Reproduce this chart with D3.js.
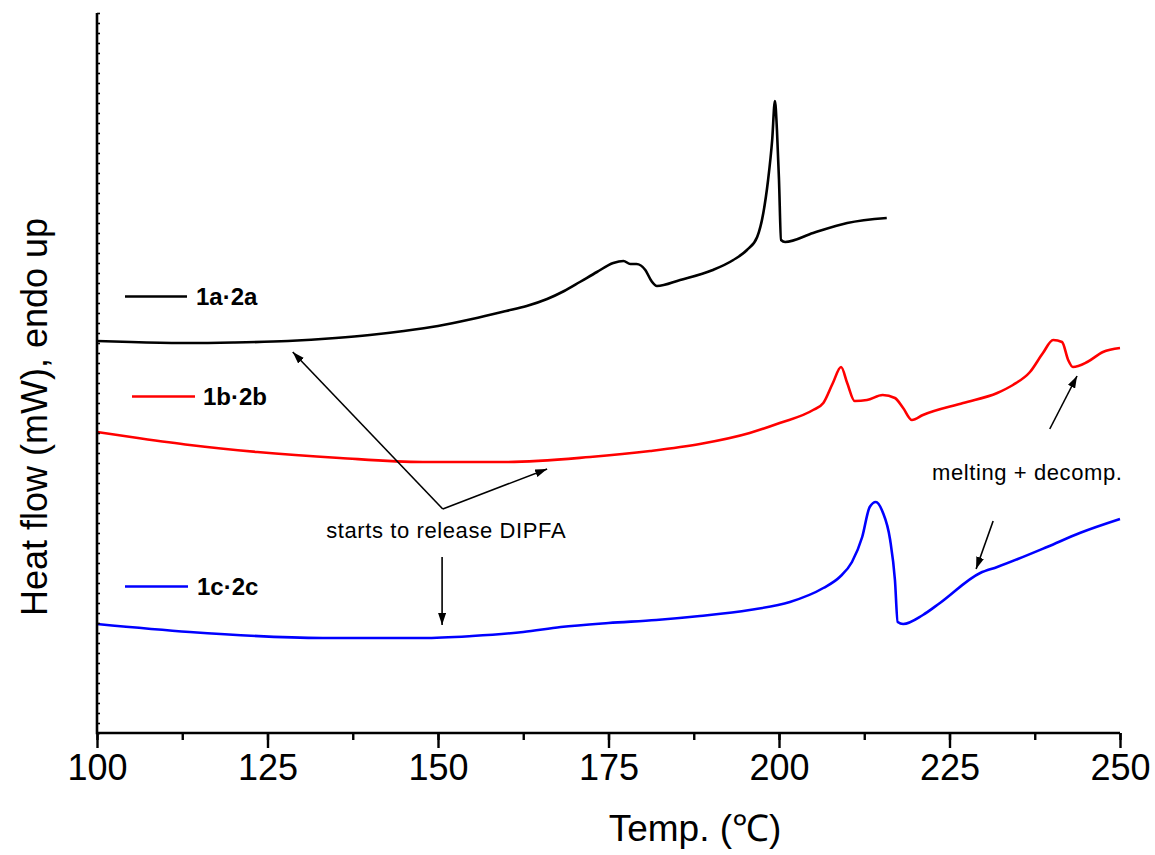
<!DOCTYPE html>
<html>
<head>
<meta charset="utf-8">
<script src="https://cdn.jsdelivr.net/npm/d3@7"></script>
<style>
  body { margin: 0; background: #fff; }
  svg { display: block; font-family: Arial, 'Liberation Sans', Helvetica, sans-serif; }
</style>
</head>
<body>
<div id="chart"></div>
<script>
// ── Data (temperature in °C, heat flow in arbitrary offset units) ──
const tempA = [100, 105, 113, 120, 128, 135, 140, 145, 150, 155, 160, 163, 166, 168.5, 170.8, 173.3, 175.7, 177.2, 178.2, 179.1, 180.4, 181.3, 182.1, 185.5, 190.3, 193.3, 195.3, 196.8, 197.7, 198.4, 199.0, 199.4, 199.7, 200.0, 200.3, 200.9, 205.0, 210.0, 215.8];
const flowA = [39.2, 39.1, 39.0, 39.05, 39.2, 39.5, 39.8, 40.2, 40.7, 41.4, 42.2, 42.7, 43.4, 44.2, 45.1, 46.1, 47.0, 47.2, 46.9, 46.9, 46.3, 45.2, 44.7, 45.3, 46.3, 47.3, 48.3, 49.6, 52.0, 55.3, 59.3, 63.2, 60.3, 55.3, 49.3, 49.1, 50.0, 51.0, 51.5];

const tempB = [100, 106, 113.6, 123.5, 135.6, 147.8, 160.1, 172.3, 181.1, 188.4, 195.7, 200.1, 205.0, 206.5, 207.9, 209.1, 210.0, 211.1, 212.9, 215.2, 217.0, 218.2, 219.5, 221.1, 227.0, 232.0, 234.3, 236.8, 238.7, 240.2, 241.5, 242.4, 243.1, 245.2, 247.5, 250];
const flowB = [30.1, 29.5, 28.8, 28.1, 27.5, 27.1, 27.1, 27.6, 28.2, 28.9, 30.0, 31.0, 32.3, 33.0, 35.0, 36.6, 35.0, 33.2, 33.3, 33.8, 33.5, 32.5, 31.3, 31.8, 33.0, 34.0, 34.8, 36.1, 38.0, 39.3, 39.1, 37.3, 36.6, 37.1, 38.1, 38.5];

const tempC = [100, 113.6, 133.1, 147.8, 155, 162.5, 168, 175, 182, 188.4, 195.7, 201.6, 206.5, 208.9, 210.7, 212.2, 213.3, 214.2, 215.2, 216.3, 217.0, 217.4, 218.2, 221.1, 223.6, 229.5, 232.0, 239.3, 244.1, 250];
const flowC = [10.9, 10.1, 9.5, 9.5, 9.7, 10.1, 10.6, 11.0, 11.3, 11.7, 12.3, 13.1, 14.5, 15.6, 17.1, 19.6, 22.6, 23.1, 22.1, 19.3, 15.3, 11.1, 10.9, 11.8, 13.0, 16.0, 16.6, 18.6, 20.0, 21.4];

const seriesNames  = ['1a\u00b72a', '1b\u00b72b', '1c\u00b72c'];
const seriesColors = ['#000000', '#ff0000', '#0000ff'];
const xTicks = [100, 125, 150, 175, 200, 225, 250];

// annotation arrows: [fromT, fromV, toT, toV]
const arrows = [
  [150.7, 22.4, 128.7, 38.1],
  [150.7, 22.4, 166.0, 26.4],
  [150.6, 17.6, 150.6, 10.8],
  [239.7, 30.4, 243.7, 35.7],
  [231.4, 21.2, 228.9, 16.4]
];
const notes = [
  { t: 151.2, v: 19.5, text: 'starts to release DIPFA' },
  { t: 236.4, v: 25.3, text: 'melting + decomp.' }
];

// ── Layout ──
const W = 1155, H = 855;
const margin = { top: 13, right: 35, bottom: 122, left: 97 };
const width  = W - margin.left - margin.right;
const height = H - margin.top - margin.bottom;

const svg = d3.select('#chart').append('svg')
  .attr('width', W).attr('height', H);

svg.append('defs').append('marker')
  .attr('id', 'head')
  .attr('viewBox', '0 0 12 8')
  .attr('refX', 12).attr('refY', 4)
  .attr('markerWidth', 12).attr('markerHeight', 8)
  .attr('markerUnits', 'userSpaceOnUse')
  .attr('orient', 'auto')
  .append('path').attr('d', 'M0,0 L12,4 L0,8 Z').attr('fill', '#000');

const g = svg.append('g').attr('transform', `translate(${margin.left},${margin.top})`);

const x = d3.scaleLinear().domain([100, 250]).range([0, width]);
const y = d3.scaleLinear().domain([0, 72]).range([height, 0]);

// ── Curves ──
const line = d3.line()
  .x(d => x(d[0]))
  .y(d => y(d[1]))
  .curve(d3.curveMonotoneX);

const series = [
  d3.zip(tempA, flowA),
  d3.zip(tempB, flowB),
  d3.zip(tempC, flowC)
];

series.forEach((s, i) => {
  g.append('path')
    .datum(s)
    .attr('fill', 'none')
    .attr('stroke', seriesColors[i])
    .attr('stroke-width', 2.6)
    .attr('stroke-linejoin', 'round')
    .attr('d', line);
});

// ── Legend (inside plot) ──
const legendPos = [
  { x1: 125, x2: 187, y: 296.5, tx: 196 },
  { x1: 132, x2: 195, y: 396.5, tx: 203 },
  { x1: 125, x2: 188, y: 586.5, tx: 197 }
];
legendPos.forEach((p, i) => {
  svg.append('line')
    .attr('x1', p.x1).attr('x2', p.x2)
    .attr('y1', p.y).attr('y2', p.y)
    .attr('stroke', seriesColors[i])
    .attr('stroke-width', 2.4);
  svg.append('text')
    .attr('x', p.tx).attr('y', p.y + 8.5)
    .style('font-size', '24px')
    .style('font-weight', 'bold')
    .text(seriesNames[i]);
});

// ── Annotations ──
arrows.forEach(a => {
  g.append('line')
    .attr('x1', x(a[0])).attr('y1', y(a[1]))
    .attr('x2', x(a[2])).attr('y2', y(a[3]))
    .attr('stroke', '#000')
    .attr('stroke-width', 1.6)
    .attr('marker-end', 'url(#head)');
});
notes.forEach(n => {
  g.append('text')
    .attr('x', x(n.t)).attr('y', y(n.v))
    .attr('text-anchor', 'middle')
    .style('font-size', '22px')
    .style('letter-spacing', '0.6px')
    .text(n.text);
});

// ── Axes ──
g.append('g')
  .attr('transform', `translate(0,${height})`)
  .call(d3.axisBottom(x).tickValues(d3.range(100, 251, 12.5)).tickFormat('').tickSize(7))
  .call(ax => ax.select('.domain').remove())
  .selectAll('line').attr('stroke', '#000').attr('stroke-width', 2.4);

const xAxis = g.append('g')
  .attr('transform', `translate(0,${height})`)
  .call(d3.axisBottom(x).tickValues(xTicks).tickFormat(d3.format('d')).tickSize(15).tickPadding(6));
xAxis.select('.domain').remove();
xAxis.selectAll('line').attr('stroke', '#000').attr('stroke-width', 2.4);
xAxis.selectAll('text')
  .attr('fill', '#000')
  .style('font-size', '36px')
  .style('font-family', "Arial, 'Liberation Sans', sans-serif");

const yAxis = g.append('g')
  .call(d3.axisRight(y).ticks(72).tickFormat('').tickSize(3));
yAxis.select('.domain').remove();
yAxis.selectAll('line').attr('stroke', '#000').attr('stroke-width', 1.6);

// axis lines
g.append('line')
  .attr('x1', 0).attr('x2', width)
  .attr('y1', height).attr('y2', height)
  .attr('stroke', '#000').attr('stroke-width', 2.6);
g.append('line')
  .attr('x1', 0).attr('x2', 0)
  .attr('y1', 0).attr('y2', height + 1.3)
  .attr('stroke', '#000').attr('stroke-width', 2.6);

// ── Axis titles ──
svg.append('text')
  .attr('x', 695).attr('y', 841)
  .attr('text-anchor', 'middle')
  .style('font-size', '37px')
  .text('Temp. (\u2103)');

svg.append('text')
  .attr('transform', 'translate(47,417) rotate(-90)')
  .attr('text-anchor', 'middle')
  .style('font-size', '36px')
  .text('Heat flow (mW), endo up');
</script>
</body>
</html>
